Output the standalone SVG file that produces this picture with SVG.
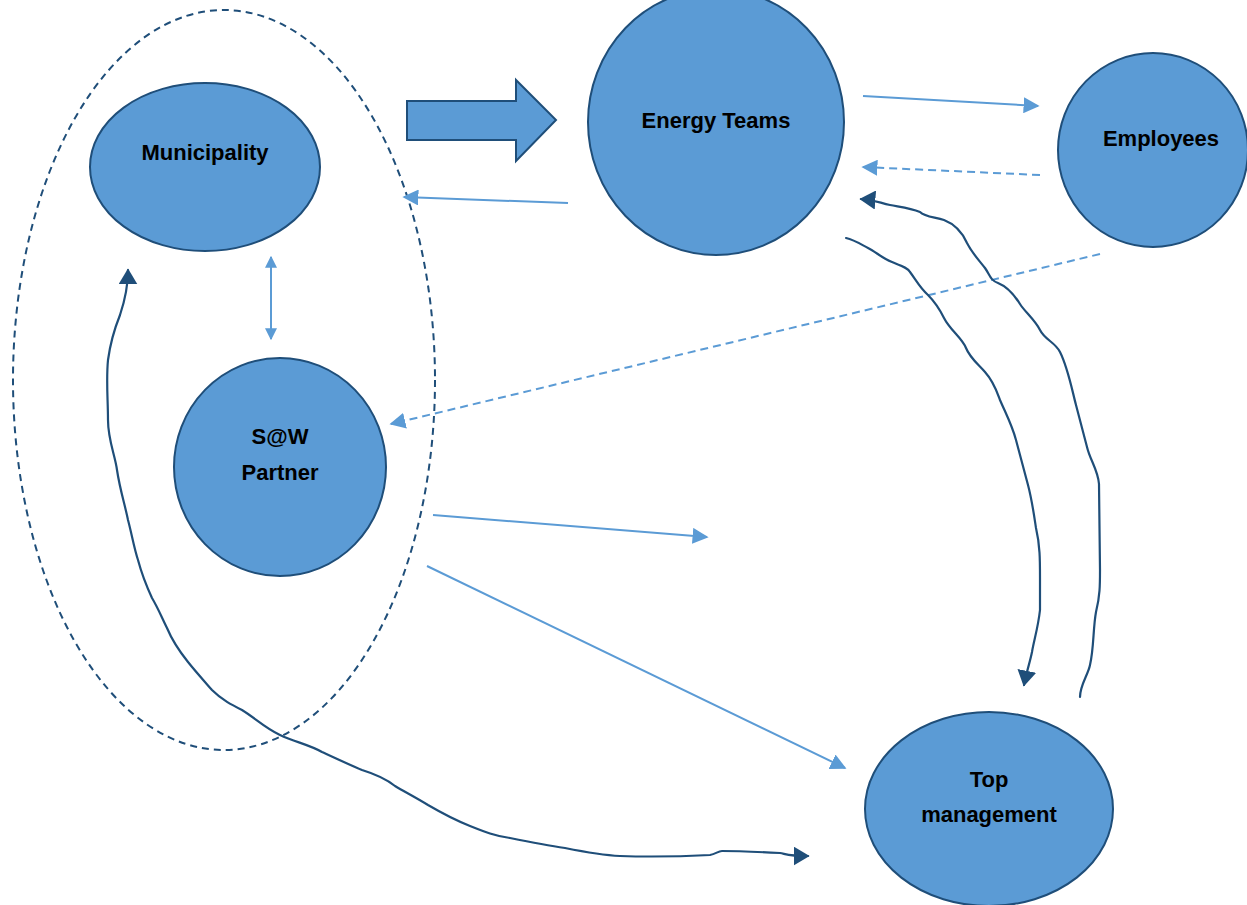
<svg xmlns="http://www.w3.org/2000/svg" width="1247" height="905" viewBox="0 0 1247 905">
  <style>
    .node { fill: #5B9BD5; stroke: #1F4E79; stroke-width: 2; }
    .label { font-family: "Liberation Sans", Arial, sans-serif; font-weight: bold; font-size: 22px; fill: #000; text-anchor: middle; }
    .light { fill: none; stroke: #5B9BD5; stroke-width: 2; }
    .light-dash { fill: none; stroke: #5B9BD5; stroke-width: 2; stroke-dasharray: 8 5; }
    .dark { fill: none; stroke: #1F4E79; stroke-width: 2.2; stroke-linejoin: round; stroke-linecap: round; }
    .group-outline { fill: none; stroke: #1F4E79; stroke-width: 2; stroke-dasharray: 7 5; }
  </style>
  <defs>
    <marker id="headLight" viewBox="0 0 10 10" refX="9" refY="5" markerWidth="12" markerHeight="12" markerUnits="userSpaceOnUse" orient="auto-start-reverse">
      <path d="M0,0 L10,5 L0,10 z" fill="#5B9BD5"/>
    </marker>
    <marker id="headLightBig" viewBox="0 0 10 10" refX="9" refY="5" markerWidth="16" markerHeight="16" markerUnits="userSpaceOnUse" orient="auto-start-reverse">
      <path d="M0,0 L10,5 L0,10 z" fill="#5B9BD5"/>
    </marker>
    <marker id="headDark" viewBox="0 0 10 10" refX="9" refY="5" markerWidth="16" markerHeight="19" markerUnits="userSpaceOnUse" orient="auto-start-reverse" preserveAspectRatio="none">
      <path d="M0,0 L10,5 L0,10 z" fill="#1F4E79"/>
    </marker>
  </defs>

  <rect width="1247" height="905" fill="#fff"/>

  <!-- grouping outline around Municipality and S@W Partner -->
  <ellipse class="group-outline" cx="224" cy="380" rx="211" ry="370"/>

  <!-- nodes -->
  <g id="municipality">
    <ellipse class="node" cx="205" cy="167" rx="115" ry="84"/>
    <text class="label" x="205" y="160">Municipality</text>
  </g>
  <g id="energy-teams">
    <ellipse class="node" cx="716" cy="122" rx="128" ry="133"/>
    <text class="label" x="716" y="128">Energy Teams</text>
  </g>
  <g id="employees">
    <ellipse class="node" cx="1153" cy="150" rx="95" ry="97"/>
    <text class="label" x="1161" y="146">Employees</text>
  </g>
  <g id="saw-partner">
    <ellipse class="node" cx="280" cy="467" rx="106" ry="109"/>
    <text class="label" x="280" y="444">S@W</text>
    <text class="label" x="280" y="480">Partner</text>
  </g>
  <g id="top-management">
    <ellipse class="node" cx="989" cy="809" rx="124" ry="97"/>
    <text class="label" x="989" y="787">Top</text>
    <text class="label" x="989" y="822">management</text>
  </g>

  <!-- connectors -->
  <g id="connectors">
    <!-- block arrow toward Energy Teams -->
    <path d="M407,101 L516,101 L516,80 L556,120 L516,161 L516,140 L407,140 Z" fill="#5B9BD5" stroke="#1F4E79" stroke-width="2"/>

    <line class="light" x1="863" y1="96" x2="1038" y2="106" marker-end="url(#headLightBig)"/>
    <line class="light-dash" x1="1040" y1="175" x2="863" y2="167" marker-end="url(#headLightBig)"/>
    <line class="light" x1="568" y1="203" x2="404" y2="197" marker-end="url(#headLightBig)"/>
    <line class="light" x1="271" y1="257" x2="271" y2="339" marker-start="url(#headLight)" marker-end="url(#headLight)"/>
    <line class="light-dash" x1="1100" y1="254" x2="391" y2="424" marker-end="url(#headLightBig)"/>
    <line class="light" x1="433" y1="515" x2="707" y2="537" marker-end="url(#headLightBig)"/>
    <line class="light" x1="427" y1="566" x2="845" y2="768" marker-end="url(#headLightBig)"/>

    <!-- hand-drawn loop: Top management up to Energy Teams -->
    <path class="dark" d="M1080,697 C1080,685 1088,675 1090,665 C1094,648 1093,628 1096,612 C1100,596 1100,585 1100,570 L1099,484 C1098,470 1090,460 1087,447 C1083,432 1080,420 1076,405 C1072,390 1068,368 1060,352 C1055,342 1045,340 1040,330 C1035,320 1025,312 1020,304 C1015,296 1008,287 998,283 C990,280 990,275 985,268 C978,259 972,253 967,243 C963,234 957,225 944,220 C935,217 925,217 920,212 C910,208 900,207 890,205 C880,203 875,200 861,199" marker-end="url(#headDark)"/>

    <!-- hand-drawn loop: Energy Teams down to Top management -->
    <path class="dark" d="M846,238 C855,240 862,245 868,248 C876,252 882,258 892,262 C902,266 908,268 910,272 C916,280 920,288 928,295 C935,302 940,310 944,318 C950,330 962,338 966,348 C970,358 978,364 985,372 C994,382 997,392 1000,400 C1006,414 1012,425 1016,440 C1020,455 1024,470 1028,485 C1032,500 1034,515 1036,528 C1040,545 1040,560 1040,578 L1040,610 C1038,628 1034,640 1032,652 C1030,662 1027,670 1024,685" marker-end="url(#headDark)"/>

    <!-- hand-drawn loop: Top management back round to Municipality -->
    <path class="dark" d="M128,270 C128,285 125,300 120,315 C114,330 110,345 108,360 C106,380 108,400 108,420 C108,440 115,455 117,470 C120,490 125,505 128,520 C132,535 134,548 138,560 C142,575 146,585 152,598 C158,608 162,618 167,628 C172,640 180,652 188,662 C196,672 205,682 212,690 C222,700 232,705 242,710 C255,718 265,728 280,735 C295,742 310,745 322,752 C335,758 350,765 362,770 C375,774 385,778 395,786 C405,792 415,797 428,805 C440,812 455,820 470,826 C485,832 495,836 510,838 C530,842 545,845 565,848 C585,852 600,855 620,856 C650,857 690,856 710,855 C716,854 718,851 722,851 C740,851 760,852 780,853 C786,854 788,856 808,856" marker-start="url(#headDark)" marker-end="url(#headDark)"/>
  </g>
</svg>
